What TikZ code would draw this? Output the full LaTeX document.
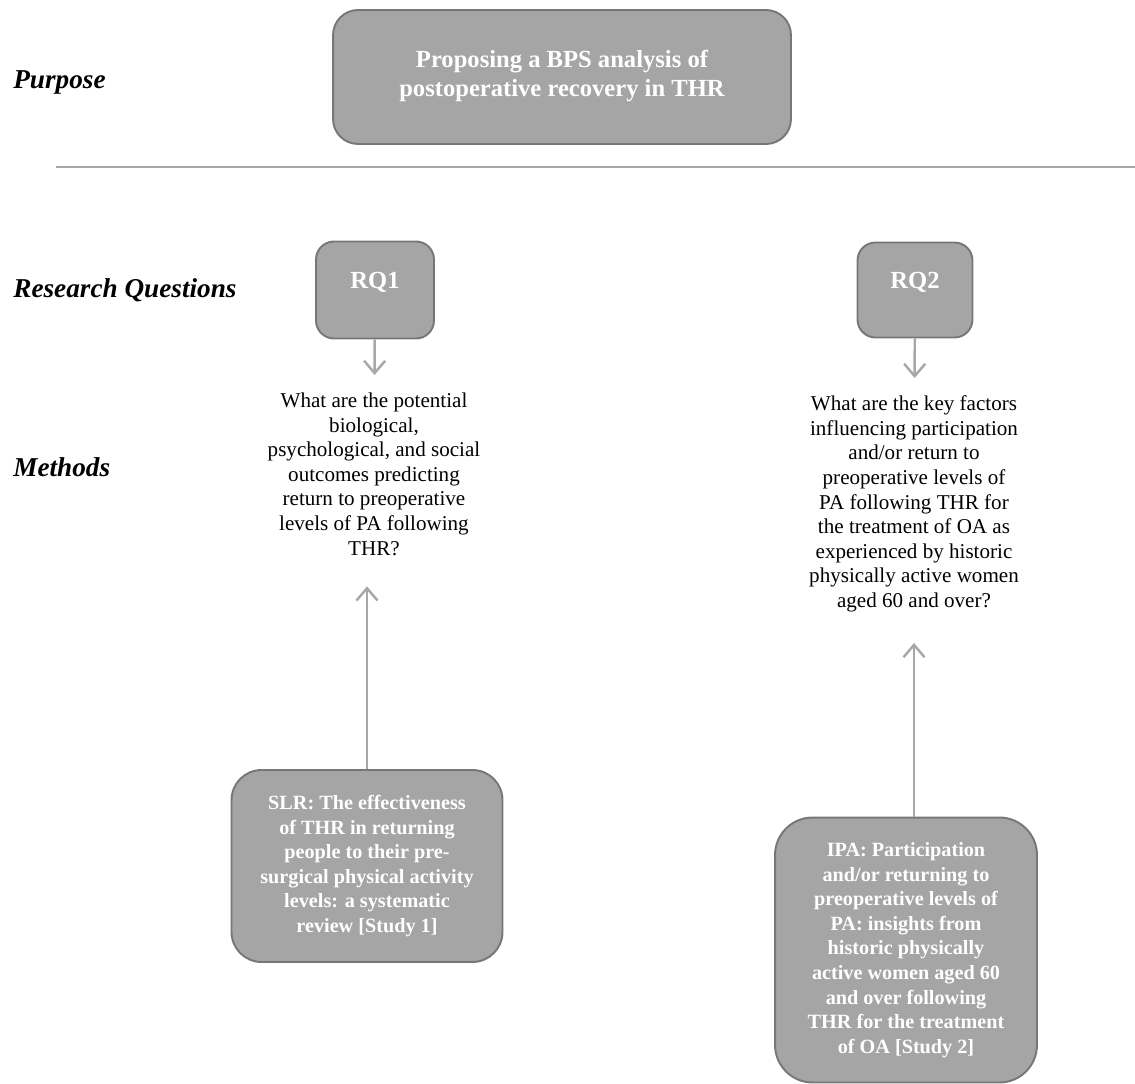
\documentclass[tikz,border=0pt]{standalone}
\usepackage{fontspec}
\setmainfont{Liberation Serif}
\usetikzlibrary{positioning, arrows.meta, calc}
\definecolor{boxgray}{HTML}{A5A5A5}
\definecolor{edgegray}{HTML}{777777}
\definecolor{linegray}{HTML}{A8A8A8}

\begin{document}
\begin{tikzpicture}[x=0.02cm, y=-0.02cm,
  box/.style={draw=edgegray, line width=1.1pt, fill=boxgray, text=white, align=center, inner sep=0pt},
  rowlabel/.style={anchor=west, inner sep=0pt, font=\fontsize{15.5}{18}\selectfont\bfseries\itshape},
  question/.style={align=center, inner xsep=0pt, inner ysep=10pt, font=\fontsize{12}{14}\selectfont},
  link/.style={draw=linegray, line width=1.4pt, -{Straight Barb[length=7pt, width=12pt]}},
  uplink/.style={link, shorten >=0.26cm}]

\useasboundingbox (0,0) rectangle (1135,1084);

% row labels
\node[rowlabel] (purpose) at (13,82) {Purpose};
\node[rowlabel] (rqs) at (13,290) {Research Questions};
\node[rowlabel] (methods) at (13,467) {Methods};

% purpose
\node[box, rounded corners=0.5cm, minimum width=9.16cm, minimum height=2.68cm,
  text depth=0.15cm, font=\fontsize{14}{16.5}\selectfont\bfseries] (aim) at (562,77)
  {Proposing a BPS analysis of\\postoperative recovery in THR};
\draw[linegray, line width=1.5pt] (56,167) -- (1135,167);

% research questions
\node[box, rounded corners=0.36cm, minimum width=2.36cm, minimum height=1.94cm,
  text depth=0.4cm, font=\fontsize{14}{16}\selectfont\bfseries] (rq1) at (375,290) {RQ1};
\node[box, rounded corners=0.36cm, minimum width=2.3cm, minimum height=1.9cm,
  text depth=0.4cm, font=\fontsize{14}{16}\selectfont\bfseries] (rq2) at (915,290) {RQ2};

\node[question, anchor=north] (q1) at (374,375) {What are the potential\\biological,\\psychological, and social\\outcomes predicting\\return to preoperative\\levels of PA following\\THR?};
\node[question, anchor=north] (q2) at (914,378) {What are the key factors\\influencing participation\\and/or return to\\preoperative levels of\\PA following THR for\\the treatment of OA as\\experienced by historic\\physically active women\\aged 60 and over?};

% methods
\node[box, rounded corners=0.6cm, minimum width=5.42cm, minimum height=3.84cm,
  font=\fontsize{11.5}{14}\selectfont\bfseries] (slr) at (367,866)
  {SLR: The effectiveness\\of THR in returning\\people to their pre-\\surgical physical activity\\levels: a systematic\\review [Study 1]};
\node[box, rounded corners=0.75cm, minimum width=5.24cm, minimum height=5.3cm,
  font=\fontsize{11.5}{14}\selectfont\bfseries] (ipa) at (906,950)
  {IPA: Participation\\and/or returning to\\preoperative levels of\\PA: insights from\\historic physically\\active women aged 60\\and over following\\THR for the treatment\\of OA [Study 2]};

\draw[link] (rq1) -- (q1);
\draw[link] (rq2) -- (q2);
\draw[uplink] (slr) -- (slr |- q1.south);
\draw[uplink] (ipa.north -| q2) -- (q2);
\end{tikzpicture}
\end{document}
